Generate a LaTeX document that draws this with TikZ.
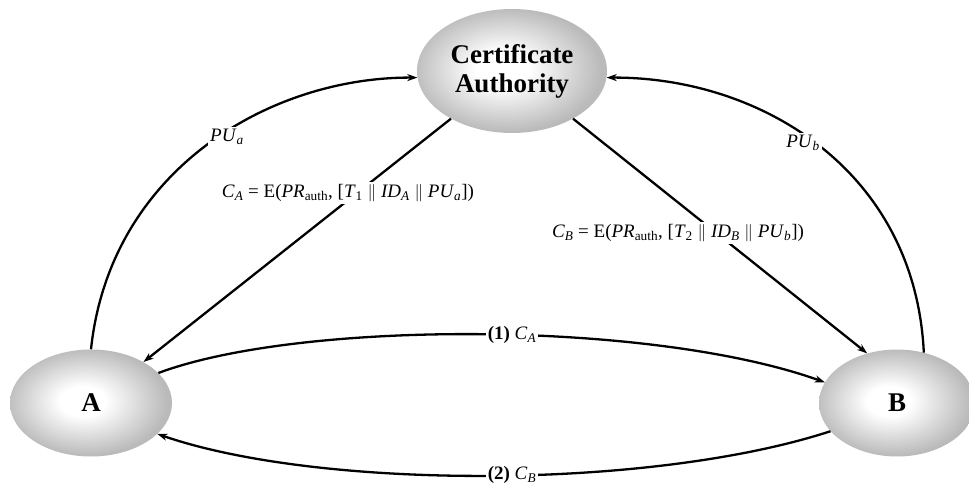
\documentclass[tikz,border=0pt]{standalone}
\usepackage{fontspec}
\setmainfont{Liberation Serif}
\usetikzlibrary{arrows.meta,shapes.geometric}
\pgfdeclareradialshading{ballshade}{\pgfpoint{-3bp}{1bp}}{color(0bp)=(white); color(7bp)=(white); color(25bp)=(black!27); color(50bp)=(black!30)}
\tikzset{
  party/.style={ellipse, draw=none, shading=ballshade, inner sep=0pt,
    font=\fontsize{27}{29}\selectfont\bfseries},
  conn/.style={line width=2.3pt, -{Stealth[length=10pt,width=7pt,inset=3pt]}},
  lbl/.style={fill=white, inner sep=2pt, font=\fontsize{19}{21}\selectfont},
}
\newcommand{\sbi}[1]{\textsubscript{\textit{#1}}}
\begin{document}
\begin{tikzpicture}[x=1pt,y=-1pt]
\useasboundingbox (0,0) rectangle (969,486);
\node[party, minimum width=190pt, minimum height=124pt, align=center] (ca) at (512,71) {Certificate\\Authority};
\node[party, minimum width=162pt, minimum height=107pt] (a) at (91,403) {A};
\node[party, minimum width=156pt, minimum height=107pt] (b) at (897,403) {B};

\draw[conn] (a.90) .. controls (110,170) and (270,77) .. (ca.184);
\draw[conn] (b.62) .. controls (915,170) and (760,77) .. (ca.-4);
\draw[conn] (ca.218) -- (a.38);
\draw[conn] (ca.-38) -- (b.121);
\draw[conn] (a.24) .. controls (300,320) and (650,320) .. (b.164);
\draw[conn] (b.203) .. controls (650,490) and (320,490) .. (a.-25);

\node[lbl] (lpua) at (227,137) {\textit{PU}\sbi{a}};
\node[lbl] (lpub) at (803,143) {\textit{PU}\sbi{b}};
\node[lbl] (lca) at (348,193) {\textit{C}\sbi{A} = E(\textit{PR}\textsubscript{auth}, [\textit{T}\textsubscript{1} $\Vert$ \textit{ID}\sbi{A} $\Vert$ \textit{PU}\sbi{a}])};
\node[lbl] (lcb) at (678,233) {\textit{C}\sbi{B} = E(\textit{PR}\textsubscript{auth}, [\textit{T}\textsubscript{2} $\Vert$ \textit{ID}\sbi{B} $\Vert$ \textit{PU}\sbi{b}])};
\node[lbl] (l1) at (512,335) {\textbf{(1)} \textit{C}\sbi{A}};
\node[lbl] (l2) at (512,475) {\textbf{(2)} \textit{C}\sbi{B}};
\end{tikzpicture}
\end{document}
